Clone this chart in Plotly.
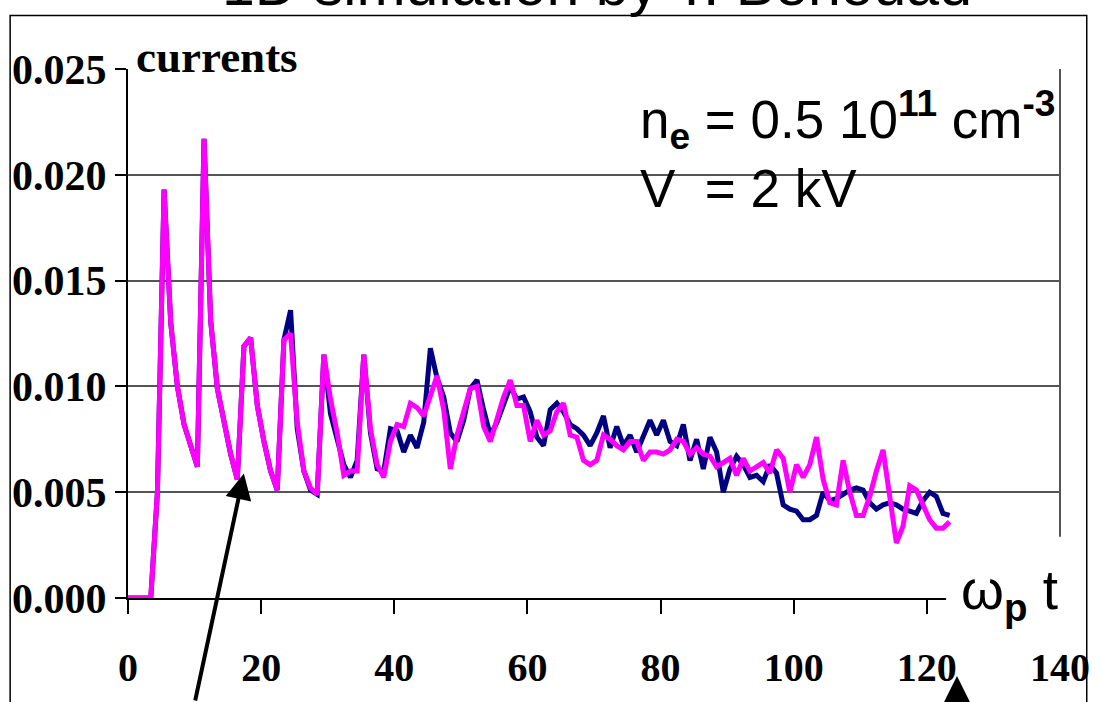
import plotly.graph_objects as go

# ---- data ----
t_step = 1.0
t_offset = 0.42
n_points = 124
time = [0.0] + [t_offset + i * t_step for i in range(1, n_points)]

current_blue = [
    0, 0, 0, 0, 0.0050, 0.0193, 0.0130, 0.0100, 0.0082, 0.0071,
    0.0062, 0.0217, 0.0131, 0.0099, 0.0083, 0.0068, 0.0056, 0.0119, 0.0123, 0.0091,
    0.0074, 0.0060, 0.0051, 0.0122, 0.0136, 0.0080, 0.0060, 0.0051, 0.0049, 0.0115,
    0.0087, 0.0074, 0.0063, 0.0057, 0.0065, 0.0115, 0.0078, 0.0061, 0.0060, 0.0080,
    0.0079, 0.0069, 0.0077, 0.0071, 0.0083, 0.0118, 0.0104, 0.0095, 0.0078, 0.0074,
    0.0084, 0.0099, 0.0103, 0.0089, 0.0077, 0.0083, 0.0091, 0.0100, 0.0094, 0.0095,
    0.0088, 0.0076, 0.0072, 0.0089, 0.0092, 0.0088, 0.0082, 0.0080, 0.0077, 0.0072,
    0.0078, 0.0086, 0.0071, 0.0081, 0.0072, 0.0077, 0.0069, 0.0077, 0.0084, 0.0077,
    0.0084, 0.0074, 0.0072, 0.0082, 0.0065, 0.0075, 0.0061, 0.0076, 0.0069, 0.0050,
    0.0061, 0.0067, 0.0063, 0.0057, 0.0058, 0.0055, 0.0063, 0.0059, 0.0044, 0.0042,
    0.0041, 0.0037, 0.0037, 0.0039, 0.0050, 0.0046, 0.0047, 0.0049, 0.0051, 0.0052,
    0.0051, 0.0045, 0.0042, 0.0044, 0.0045, 0.0044, 0.0042, 0.0041, 0.0040, 0.0046,
    0.0050, 0.0048, 0.0040, 0.0039,
]

current_pink = [
    0, 0, 0, 0, 0.0050, 0.0193, 0.0130, 0.0100, 0.0082, 0.0071,
    0.0062, 0.0217, 0.0131, 0.0099, 0.0083, 0.0068, 0.0056, 0.0119, 0.0123, 0.0091,
    0.0074, 0.0060, 0.0051, 0.0122, 0.0125, 0.0083, 0.0060, 0.0052, 0.0049, 0.0115,
    0.0094, 0.0078, 0.0058, 0.0060, 0.0060, 0.0115, 0.0080, 0.0063, 0.0057, 0.0074,
    0.0082, 0.0081, 0.0092, 0.0090, 0.0086, 0.0095, 0.0105, 0.0089, 0.0061, 0.0077,
    0.0088, 0.0099, 0.0100, 0.0081, 0.0074, 0.0084, 0.0095, 0.0103, 0.0091, 0.0091,
    0.0074, 0.0084, 0.0077, 0.0079, 0.0088, 0.0092, 0.0077, 0.0076, 0.0065, 0.0063,
    0.0065, 0.0077, 0.0075, 0.0072, 0.0070, 0.0074, 0.0074, 0.0065, 0.0069, 0.0069,
    0.0068, 0.0070, 0.0075, 0.0074, 0.0068, 0.0071, 0.0068, 0.0067, 0.0062, 0.0064,
    0.0066, 0.0058, 0.0066, 0.0060, 0.0062, 0.0064, 0.0059, 0.0070, 0.0066, 0.0050,
    0.0063, 0.0057, 0.0063, 0.0076, 0.0056, 0.0045, 0.0044, 0.0065, 0.0050, 0.0039,
    0.0039, 0.0048, 0.0060, 0.0070, 0.0048, 0.0026, 0.0034, 0.0053, 0.0051, 0.0044,
    0.0037, 0.0033, 0.0033, 0.0036,
]

x_ticks = [0, 20, 40, 60, 80, 100, 120, 140]
y_ticks = [0.000, 0.005, 0.010, 0.015, 0.020, 0.025]
y_tick_labels = ["0.000", "0.005", "0.010", "0.015", "0.020", "0.025"]

# ---- layout geometry ----
W, H = 1102, 702
L, R, T, B = 126, 35, 69, 98
PW = W - L - R
PH = H - T - B


def px(xp):
    return (xp - L) / PW


def py(yp):
    return (H - B - yp) / PH


serif_bold = dict(family="Liberation Serif", size=40, color="black", weight="bold")
y_serif_bold = dict(family="Liberation Serif", size=42, color="black", weight="bold")

fig = go.Figure()
fig.add_trace(go.Scatter(x=time, y=current_blue, mode="lines",
                         line=dict(color="#000080", width=5), showlegend=False))
fig.add_trace(go.Scatter(x=time, y=current_pink, mode="lines",
                         line=dict(color="#FF00FF", width=5), showlegend=False))

fig.update_layout(
    width=W, height=H,
    margin=dict(l=L, r=R, t=T, b=B, pad=0),
    paper_bgcolor="white", plot_bgcolor="white",
    showlegend=False,
    xaxis=dict(range=[0, 140], tickvals=x_ticks, ticktext=[str(v) for v in x_ticks],
               showgrid=False, zeroline=False, showline=True, linecolor="black",
               linewidth=2, ticks="outside", ticklen=14, tickwidth=1.5,
               tickcolor="black", tickfont=serif_bold, ticklabelstandoff=19),
    yaxis=dict(range=[0, 0.025], tickvals=y_ticks, ticktext=y_tick_labels,
               showgrid=True, gridcolor="#555555", gridwidth=1.5,
               zeroline=False, showline=True, linecolor="black", linewidth=2,
               ticks="outside", ticklen=11, tickwidth=1.5, tickcolor="black",
               tickfont=y_serif_bold, ticklabelstandoff=0),
)

shapes = [
    # outer frame
    dict(type="rect", xref="paper", yref="paper", x0=px(7), x1=px(1094),
         y0=py(720), y1=py(15), line=dict(color="black", width=1.5),
         fillcolor="rgba(0,0,0,0)", layer="below"),
    # right border of the plot area
    dict(type="line", xref="paper", yref="paper", x0=1, x1=1, y0=0, y1=1,
         line=dict(color="#555555", width=2), layer="above"),
    # white box behind the axis title
    dict(type="rect", xref="paper", yref="paper", x0=px(952), x1=px(1092),
         y0=py(645), y1=py(542), line=dict(width=0), fillcolor="white",
         layer="above"),
]
fig.update_layout(shapes=shapes)

annotations = [
    dict(text="1D simulation by T. Benouad", xref="paper", yref="paper",
         x=px(600), y=py(-16), xanchor="center", yanchor="middle",
         showarrow=False, font=dict(family="Liberation Sans", size=59, color="black")),
    dict(text="currents", xref="paper", yref="paper", x=px(132), y=py(57),
         xanchor="left", yanchor="middle", showarrow=False,
         font=dict(family="Liberation Serif", size=45, color="black", weight="bold")),
    dict(text="n<sub><b>e</b></sub> = 0.5 10<sup><b>11</b></sup> cm<sup><b>-3</b></sup>"
              "<br>V\u00a0 = 2 kV",
         xref="paper", yref="paper", x=px(641), y=py(151), xanchor="left",
         yanchor="middle", align="left", showarrow=False,
         font=dict(family="Liberation Sans", size=53, color="black")),
    dict(text="\u03c9<sub><b>p</b></sub> t", xref="paper", yref="paper",
         x=px(965), y=py(600), xanchor="left", yanchor="middle", showarrow=False,
         font=dict(family="Liberation Sans", size=55, color="black")),
    dict(text="", xref="paper", yref="paper", x=px(243), y=py(478),
         ax=-49, ay=250, showarrow=True, arrowhead=2, arrowsize=1.3,
         arrowwidth=4, arrowcolor="black"),
    dict(text="", xref="paper", yref="paper", x=px(963), y=py(683),
         ax=0, ay=60, showarrow=True, arrowhead=2, arrowsize=1.3,
         arrowwidth=4, arrowcolor="black"),
]
fig.update_layout(annotations=annotations)

fig.write_html("out.html")
